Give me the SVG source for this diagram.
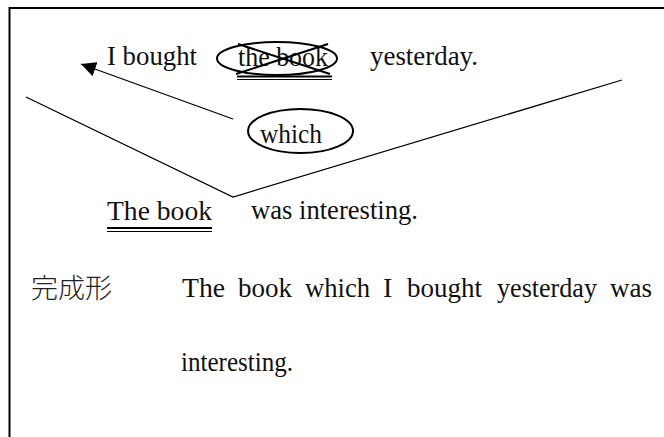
<svg xmlns="http://www.w3.org/2000/svg" width="664" height="437" viewBox="0 0 664 437">
  <style>
    .t { font-family: "Liberation Serif", "Times New Roman", serif; font-size: 28px; fill: #111; }
    .cjk { font-family: "Noto Sans CJK JP", "Noto Sans CJK SC", sans-serif; font-size: 27px; font-weight: 300; fill: #222; }
    .ring { fill: none; stroke: #000; stroke-width: 2; }
    .ul1 { stroke: #000; stroke-width: 2; }
    .ul2 { stroke: #000; stroke-width: 1.2; }
    .conn { fill: none; stroke: #000; stroke-width: 1.3; }
  </style>
  <defs>
    <marker id="arrow" markerUnits="userSpaceOnUse" markerWidth="16" markerHeight="15" refX="15" refY="7.5" orient="auto">
      <path d="M0,0 L15,7.5 L0,15 z" fill="#000"/>
    </marker>
  </defs>

  <!-- outer frame (continues past the right and bottom edges) -->
  <rect x="9.5" y="8" width="700" height="500" fill="#fff" stroke="#000" stroke-width="2"/>

  <!-- connectors -->
  <g id="connectors">
    <polyline class="conn" points="26,97 233,197 622,80"/>
    <line class="conn" x1="233" y1="119" x2="81" y2="64" marker-end="url(#arrow)"/>
  </g>

  <!-- relative clause sentence -->
  <g id="relative-clause">
    <text class="t" x="107" y="65" textLength="90" lengthAdjust="spacingAndGlyphs">I bought</text>
    <text class="t" x="370" y="65" textLength="108" lengthAdjust="spacingAndGlyphs">yesterday.</text>
  </g>

  <!-- struck-out antecedent -->
  <g id="struck-antecedent">
    <ellipse class="ring" cx="277" cy="58.5" rx="60" ry="16.5"/>
    <text class="t" x="238" y="66" textLength="90" lengthAdjust="spacingAndGlyphs">the book</text>
    <line class="ul1" x1="238" y1="44" x2="330" y2="74"/>
    <line class="ul1" x1="236" y1="74" x2="328" y2="44"/>
    <line class="ul1" x1="237" y1="76.5" x2="332" y2="76.5"/>
    <line class="ul2" x1="237" y1="79.5" x2="332" y2="79.5"/>
  </g>

  <!-- relative pronoun -->
  <g id="pronoun-which">
    <ellipse class="ring" cx="300.5" cy="131" rx="52.5" ry="22"/>
    <text class="t" x="260" y="143" textLength="62" lengthAdjust="spacingAndGlyphs">which</text>
  </g>

  <!-- main clause -->
  <g id="main-clause">
    <text class="t" x="107" y="220" textLength="105" lengthAdjust="spacingAndGlyphs">The book</text>
    <line class="ul1" x1="107" y1="228" x2="212" y2="228"/>
    <line class="ul2" x1="107" y1="231.5" x2="212" y2="231.5"/>
    <text class="t" x="251" y="219" textLength="167" lengthAdjust="spacingAndGlyphs">was interesting.</text>
  </g>

  <!-- completed sentence, justified word by word -->
  <g id="completed-form">
    <text class="cjk" x="31" y="298">完成形</text>
    <text class="t" x="182" y="297" textLength="43" lengthAdjust="spacingAndGlyphs">The</text>
    <text class="t" x="238" y="297" textLength="54" lengthAdjust="spacingAndGlyphs">book</text>
    <text class="t" x="305" y="297" textLength="65" lengthAdjust="spacingAndGlyphs">which</text>
    <text class="t" x="383" y="297">I</text>
    <text class="t" x="407" y="297" textLength="75" lengthAdjust="spacingAndGlyphs">bought</text>
    <text class="t" x="497" y="297" textLength="100" lengthAdjust="spacingAndGlyphs">yesterday</text>
    <text class="t" x="610" y="297" textLength="42" lengthAdjust="spacingAndGlyphs">was</text>
    <text class="t" x="181" y="371" textLength="112" lengthAdjust="spacingAndGlyphs">interesting.</text>
  </g>
</svg>
